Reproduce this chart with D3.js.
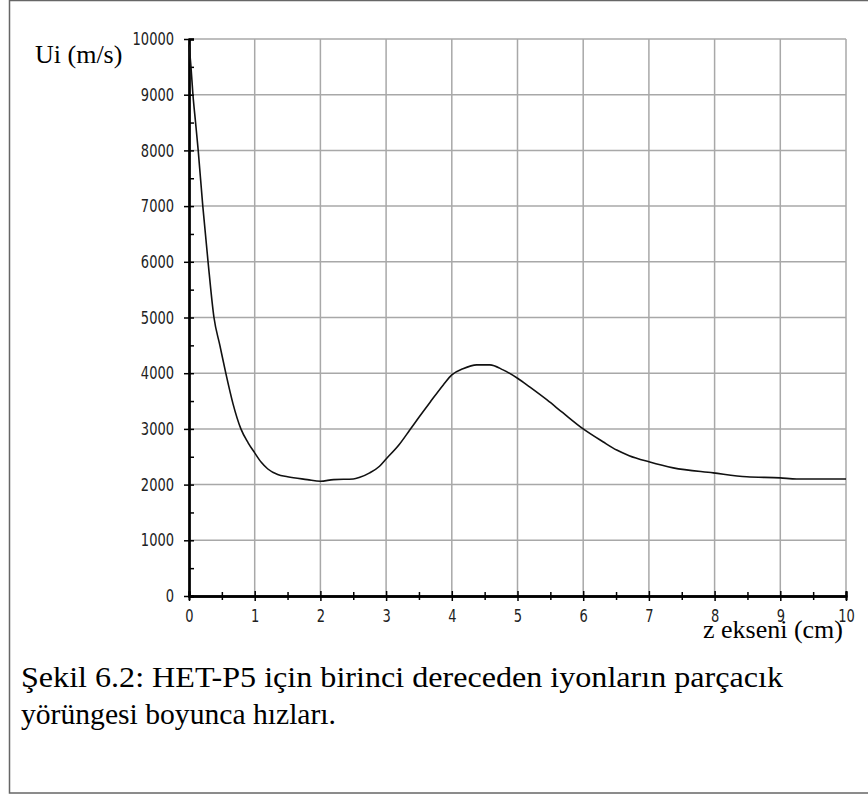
<!DOCTYPE html>
<html>
<head>
<meta charset="utf-8">
<script src="https://cdn.jsdelivr.net/npm/d3@7/dist/d3.min.js"></script>
<style>
  body { margin: 0; background: #fff; }
  svg { display: block; }
  .grid line { stroke: #a8a8a8; stroke-width: 1.5; }
  .axis path, .axis line { stroke: #000; }
  .axis text { font-family: "DejaVu Sans Condensed", "DejaVu Sans", sans-serif; font-size: 14.5px; fill: #222; }
  .lbl { font-family: "Liberation Serif", serif; fill: #000; }
</style>
</head>
<body>
<svg width="868" height="794"></svg>
<script>
// z (cm) positions and ion speed Ui (m/s)
var zVals = [0, 0.03, 0.06, 0.1, 0.14, 0.21, 0.29, 0.38, 0.47, 0.56, 0.67, 0.79, 0.9, 1.0, 1.1, 1.2, 1.35, 1.5, 1.8, 2.0, 2.2, 2.5, 2.6, 2.75, 2.9, 3.0, 3.2, 3.36, 3.5, 3.67, 3.87, 4.0, 4.17, 4.38, 4.58, 4.78, 5.0, 5.19, 5.45, 5.69, 6.0, 6.3, 6.51, 6.7, 7.0, 7.37, 7.98, 8.49, 9.0, 9.25, 10];
var uVals = [9900, 9500, 9000, 8500, 8000, 7000, 6000, 5000, 4500, 4000, 3450, 3000, 2750, 2570, 2400, 2280, 2180, 2140, 2090, 2060, 2090, 2100, 2130, 2210, 2330, 2460, 2720, 2980, 3210, 3480, 3790, 3970, 4080, 4150, 4150, 4060, 3910, 3750, 3520, 3290, 3000, 2770, 2620, 2520, 2410, 2300, 2210, 2140, 2120, 2100, 2100];

// ticks
var xTicks = [0, 1, 2, 3, 4, 5, 6, 7, 8, 9, 10];
var xMinor = [0.5, 1.5, 2.5, 3.5, 4.5, 5.5, 6.5, 7.5, 8.5, 9.5];
var yTicks = [0, 1000, 2000, 3000, 4000, 5000, 6000, 7000, 8000, 9000, 10000];
var yMinor = [500, 1500, 2500, 3500, 4500, 5500, 6500, 7500, 8500, 9500];

var yTitle = "Ui (m/s)";
var xTitle = "z ekseni (cm)";
var caption = ["Şekil 6.2: HET-P5 için birinci dereceden iyonların parçacık",
               "yörüngesi boyunca hızları."];

var data = zVals.map(function(z, i) { return {z: z, u: uVals[i]}; });

var svg = d3.select("svg");
var margin = {top: 39, left: 189},
    width = 657,
    height = 557;

// outer frame
svg.append("rect")
    .attr("x", 9.5).attr("y", 0.5)
    .attr("width", 870).attr("height", 792.5)
    .attr("fill", "none")
    .attr("stroke", "#666")
    .attr("stroke-width", 1.5);

var g = svg.append("g").attr("transform", "translate(" + margin.left + "," + margin.top + ")");

var x = d3.scaleLinear().domain([0, 10]).range([0, width]);
var y = d3.scaleLinear().domain([0, 10000]).range([height, 0]);

// grid
g.append("g").attr("class", "grid")
  .selectAll("line").data(xTicks.slice(1)).enter().append("line")
    .attr("x1", function(d) { return x(d); }).attr("x2", function(d) { return x(d); })
    .attr("y1", 0).attr("y2", height);
g.append("g").attr("class", "grid")
  .selectAll("line").data(yTicks.slice(1)).enter().append("line")
    .attr("y1", function(d) { return y(d); }).attr("y2", function(d) { return y(d); })
    .attr("x1", 0).attr("x2", width);

// x axis: major and minor ticks cross the line
var xa = g.append("g").attr("class", "axis").attr("transform", "translate(0," + height + ")");
xa.call(d3.axisBottom(x).tickValues(xTicks).tickSize(5).tickPadding(6).tickSizeOuter(0).tickFormat(d3.format("d")));
xa.append("g").call(d3.axisTop(x).tickValues(xTicks).tickSize(5).tickFormat(""));
xa.append("g").call(d3.axisTop(x).tickValues(xMinor).tickSize(4).tickFormat(""));
xa.append("g").call(d3.axisBottom(x).tickValues(xMinor).tickSize(4).tickFormat(""));

// y axis
var ya = g.append("g").attr("class", "axis");
ya.call(d3.axisLeft(y).tickValues(yTicks).tickSize(5).tickPadding(10).tickSizeOuter(0).tickFormat(d3.format("d")));
ya.append("g").call(d3.axisRight(y).tickValues(yTicks).tickSize(5).tickFormat(""));
ya.append("g").call(d3.axisRight(y).tickValues(yMinor).tickSize(5).tickFormat(""));

svg.selectAll(".axis path.domain").attr("stroke-width", 2);
svg.selectAll(".axis .tick line").attr("stroke-width", 1.5);
svg.selectAll(".axis g g path.domain").remove();
// the tick digits in the picture are tall and narrow
svg.selectAll(".axis text").attr("transform", "scale(1,1.22)");

// curve
var line = d3.line()
    .x(function(d) { return x(d.z); })
    .y(function(d) { return y(d.u); })
    .curve(d3.curveMonotoneX);
g.append("path")
    .datum(data)
    .attr("fill", "none")
    .attr("stroke", "#111")
    .attr("stroke-width", 1.6)
    .attr("d", line);

// titles
svg.append("text").attr("class", "lbl")
    .attr("x", 35).attr("y", 63)
    .style("font-size", "26px")
    .text(yTitle);
svg.append("text").attr("class", "lbl")
    .attr("x", 843).attr("y", 638)
    .attr("text-anchor", "end")
    .style("font-size", "26px")
    .text(xTitle);

var capWidths = [762, 315];
svg.append("g").selectAll("text").data(caption).enter().append("text")
    .attr("class", "lbl")
    .attr("x", 21)
    .attr("y", function(d, i) { return 687 + i * 37; })
    .attr("textLength", function(d, i) { return capWidths[i]; })
    .attr("lengthAdjust", "spacingAndGlyphs")
    .style("font-size", "30px")
    .text(function(d) { return d; });
</script>
</body>
</html>
